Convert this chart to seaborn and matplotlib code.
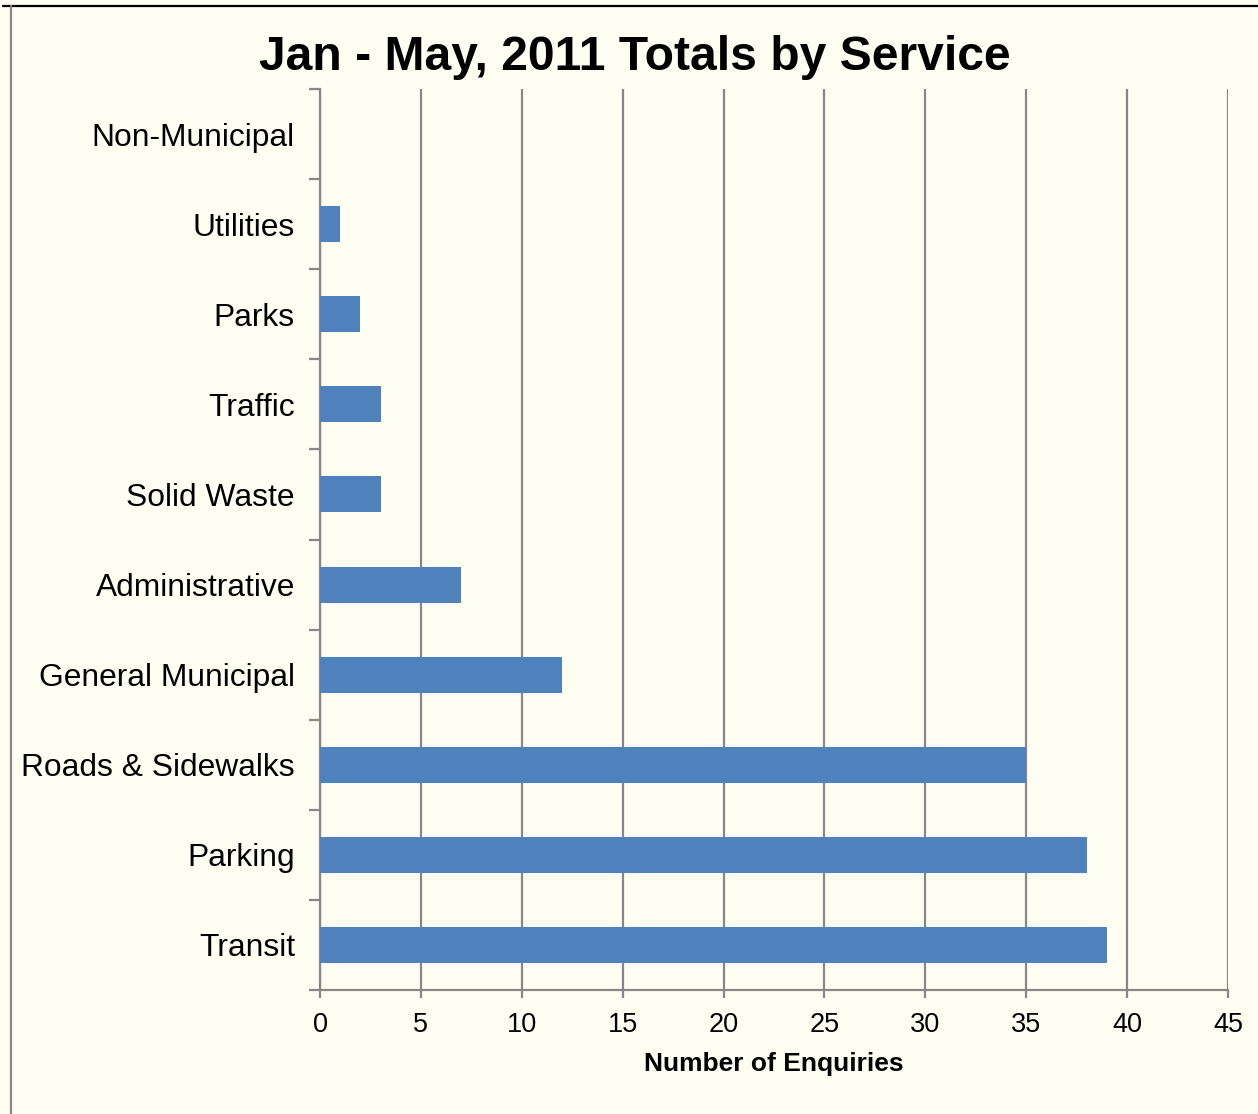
import matplotlib
matplotlib.use("Agg")
import matplotlib.pyplot as plt
import seaborn as sns
import pandas as pd
import numpy as np
from matplotlib.lines import Line2D
from matplotlib.ticker import FixedLocator

categories = ["Non-Municipal", "Utilities", "Parks", "Traffic", "Solid Waste",
              "Administrative", "General Municipal", "Roads & Sidewalks", "Parking", "Transit"]
values = [0, 1, 2, 3, 3, 7, 12, 35, 38, 39]
x_ticks = [0, 5, 10, 15, 20, 25, 30, 35, 40, 45]

title = "Jan - May, 2011 Totals by Service"
xlabel = "Number of Enquiries"

bg = "#FFFEF2"
bar_color = "#4F81BD"
grid_color = "#878787"

sns.set_theme(style="white")
plt.rcParams['font.family'] = ['Liberation Sans', 'DejaVu Sans']

df = pd.DataFrame({"category": categories, "value": values})

fig = plt.figure(figsize=(12.58, 11.14), dpi=100, facecolor=bg)
ax = fig.add_axes([320/1258, 1 - 990/1114, (1228-320)/1258, (990-89)/1114])
ax.set_facecolor(bg)

sns.barplot(data=df, x="value", y="category", order=categories, color=bar_color,
            width=0.4, saturation=1, edgecolor="none", linewidth=0, ax=ax, zorder=3)

ax.set_xlim(0, 45)
ax.set_ylim(len(categories) - 0.5, -0.5)
ax.xaxis.set_major_locator(FixedLocator(x_ticks))
ax.set_xticklabels([str(t) for t in x_ticks])
ax.grid(axis="x", color=grid_color, linewidth=1.6, zorder=0)
ax.grid(axis="y", visible=False)
ax.set_axisbelow(True)

for s in ["top", "right"]:
    ax.spines[s].set_visible(False)
for s in ["left", "bottom"]:
    ax.spines[s].set_color(grid_color)
    ax.spines[s].set_linewidth(1.6)

ax.tick_params(axis="y", which="major", length=0, pad=18, labelsize=22.9, labelcolor="black")
ax.yaxis.set_minor_locator(FixedLocator(np.arange(-0.5, len(categories), 1.0)))
ax.tick_params(axis="y", which="minor", length=8, width=1.6, color=grid_color, left=True)
ax.tick_params(axis="x", which="major", length=6, width=1.6, color=grid_color, pad=10,
               labelsize=19.5, labelcolor="black", bottom=True)

ax.set_ylabel("")
ax.set_xlabel(xlabel, fontsize=19, fontweight="bold", labelpad=10, color="black")
fig.text(635/1258, 1 - 57/1114, title, ha="center", va="center",
         fontsize=34.6, fontweight="bold", color="black")

fig.add_artist(Line2D([3/1258, 1], [1 - 6/1114, 1 - 6/1114], color="black", linewidth=1.6))
fig.add_artist(Line2D([11/1258, 11/1258], [0, 1 - 6/1114], color=grid_color, linewidth=1.6))

fig.savefig("out.png", dpi=100, facecolor=bg)
